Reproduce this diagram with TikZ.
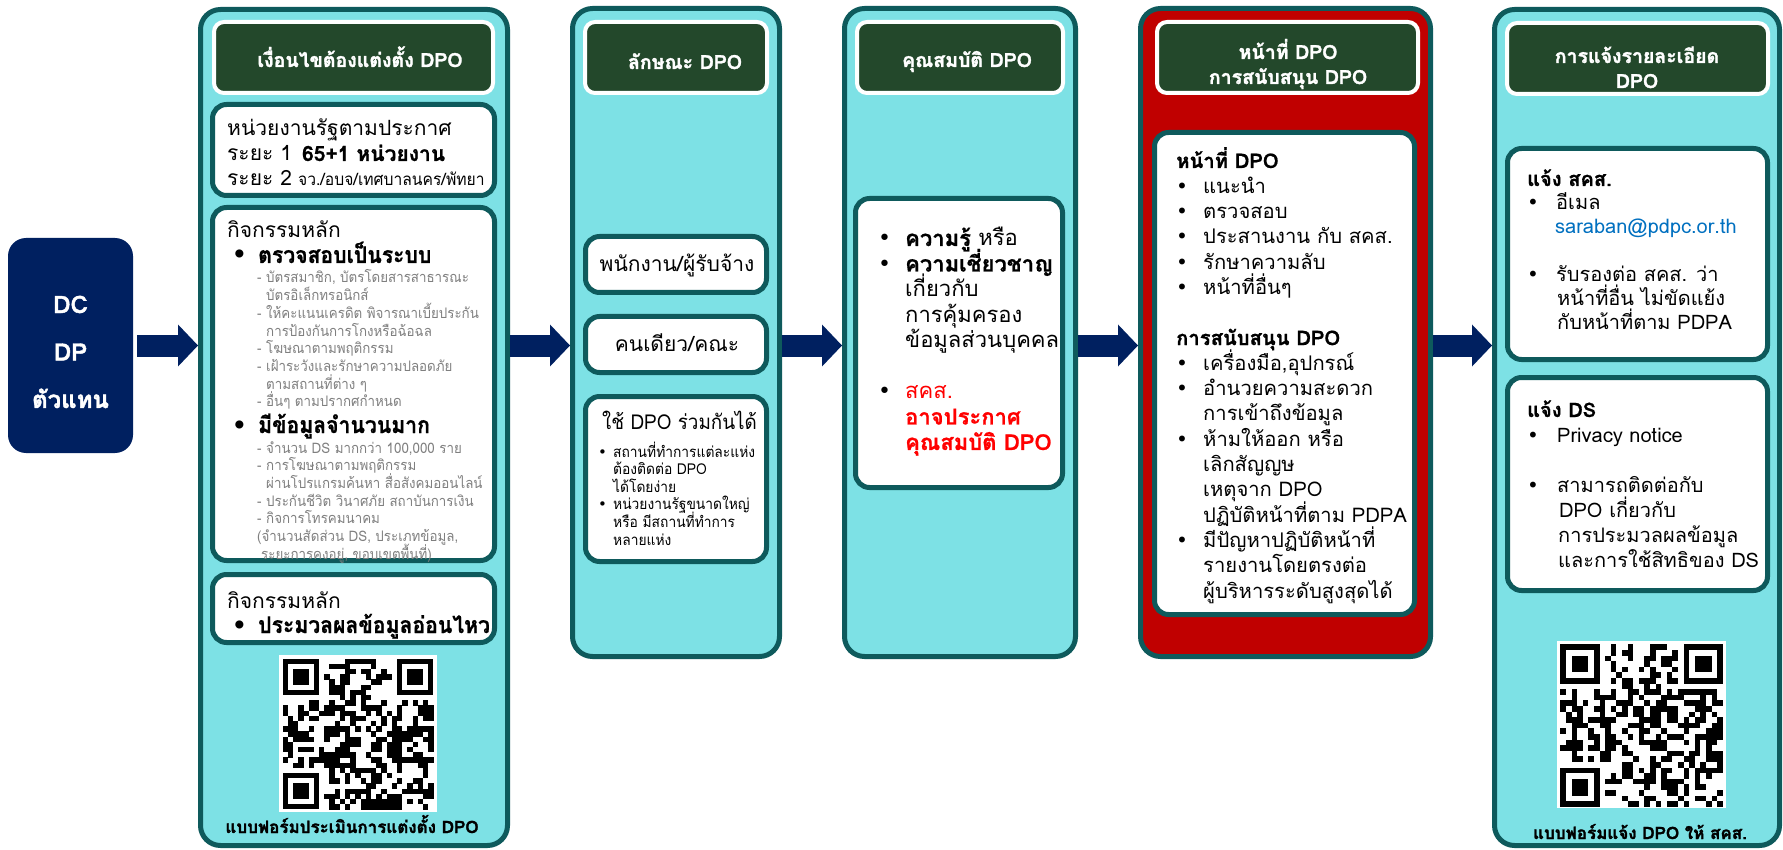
\documentclass[tikz,border=0pt]{standalone}
\usepackage{fontspec}
\setmainfont{Loma}[Script=Thai, BoldFeatures={FakeBold=0.8}]
\newfontfamily\condfont{Loma}[Script=Thai, FakeStretch=0.92, BoldFeatures={FakeBold=0.8}]
\newfontfamily\heavyfont{Loma}[Script=Thai, BoldFeatures={FakeBold=1.6}]
\newfontfamily\bulfont{DejaVu Sans}
\usepackage{xcolor}
\usetikzlibrary{arrows.meta, calc}

\definecolor{cyanbg}{RGB}{125,225,229}
\definecolor{tealdk}{RGB}{14,90,92}
\definecolor{hdrgreen}{RGB}{35,72,43}
\definecolor{navy}{RGB}{0,32,96}
\definecolor{redfill}{RGB}{192,0,0}
\definecolor{greytxt}{RGB}{127,127,127}
\definecolor{bluetxt}{RGB}{0,112,192}
\definecolor{redtxt}{RGB}{255,0,0}

\newcommand{\fs}[2]{\fontsize{#1}{#2}\selectfont}
\newcommand{\bul}{{\bulfont •}}
\newcommand{\bi}[1][27pt]{\makebox[#1][l]{\bul}}
\newcommand{\ii}[1][27pt]{\hspace*{#1}}
\newcommand{\dsh}{\makebox[9pt][l]{-}}
% lines with a fixed baseline step, base = first line
\newcommand{\tl}[1]{\vtop{\lineskiplimit=-100pt\relax\let\\\cr\halign{##\hfil\cr#1\crcr}}}
\newcommand{\tc}[1]{\vtop{\lineskiplimit=-100pt\relax\let\\\cr\halign{\hfil##\hfil\cr#1\crcr}}}

\begin{document}
\begin{tikzpicture}[
  x=1pt, y=-1pt,
  col/.style={draw=tealdk, line width=5pt, fill=cyanbg, rounded corners=20pt},
  hdr/.style={draw=white, line width=4pt, fill=hdrgreen, rounded corners=10pt},
  inbox/.style={draw=tealdk, line width=5pt, fill=white, rounded corners=14pt},
  hdtxt/.style={text=white, font=\heavyfont\bfseries\fs{19.5}{25}, inner sep=0pt, anchor=base},
  txt/.style={inner sep=0pt, anchor=base west},
  gry/.style={txt, text=greytxt, font=\condfont\fs{14.5}{17.7}},
  foot/.style={inner sep=0pt, anchor=base, font=\heavyfont\bfseries\fs{17}{20}},
  qrbg/.style={fill=white, inner sep=0pt},
  blk/.style={draw=navy, line width=22pt, -{Triangle[length=20pt, width=42pt, line width=0pt]}}
]
\useasboundingbox (0,0) rectangle (1783,850);

% source
\node[fill=navy, rounded corners=18pt, minimum width=125, minimum height=215] (dc) at (70.5,345.5) {};
\node[text=white, font=\heavyfont\bfseries\fs{24}{47.5}, inner sep=0pt, anchor=base] (dct) at (70.5,313) {\tc{DC\\DP\\ตัวแทน}};

% columns
\node[col, minimum width=307, minimum height=836] (col1) at (354,427.5) {};
\node[col, minimum width=207, minimum height=648] (col2) at (676,332.5) {};
\node[col, minimum width=231, minimum height=648] (col3) at (960,332.5) {};
\node[col, fill=redfill, minimum width=290, minimum height=648] (col4) at (1285.5,332.5) {};
\node[col, minimum width=285, minimum height=836] (col5) at (1637,427.5) {};

% headers
\node[hdr, minimum width=279, minimum height=71] (h1) at (353.5,57.5) {};
\node[hdr, minimum width=182, minimum height=71] (h2) at (676,57.5) {};
\node[hdr, minimum width=206, minimum height=71] (h3) at (960,57.5) {};
\node[hdr, minimum width=261, minimum height=71] (h4) at (1287.5,57.5) {};
\node[hdr, minimum width=261, minimum height=71] (h5) at (1637.5,58.5) {};
\node[hdtxt] (h1t) at (360,67) {เงื่อนไขต้องแต่งตั้ง DPO};
\node[hdtxt] (h2t) at (685,69) {ลักษณะ DPO};
\node[hdtxt] (h3t) at (967,67) {คุณสมบัติ DPO};
\node[hdtxt] (h4t) at (1288,59) {\tc{หน้าที่ DPO\\การสนับสนุน DPO}};
\node[hdtxt] (h5t) at (1637,63) {\tc{การแจ้งรายละเอียด\\DPO}};

% column 1
\node[inbox, minimum width=282, minimum height=91] (b1) at (353.5,150) {};
\node[inbox, minimum width=282, minimum height=353] (b2) at (353.5,384) {};
\node[inbox, minimum width=282, minimum height=68] (b3) at (353.5,608.5) {};
\node[txt, font=\fs{21}{25}] (b1t) at (227,136) {\tl{หน่วยงานรัฐตามประกาศ\\ระยะ 1\hspace{10pt}{\bfseries 65+1 หน่วยงาน}\\ระยะ 2\hspace{6pt}{\condfont\fs{17}{25}จว./อบจ/เทศบาลนคร/พัทยา}}};
\node[txt, font=\fs{21}{25}] (b2t) at (227,238) {กิจกรรมหลัก};
\node[txt, font=\condfont\bfseries\fs{23}{25}] (b2u) at (232,263) {\bi[26pt]ตรวจสอบเป็นระบบ};
\node[gry] (g1) at (257,283) {\tl{\dsh บัตรสมาชิก, บัตรโดยสารสาธารณะ\\\ii[9pt]บัตรอิเล็กทรอนิกส์\\\dsh ให้คะแนนเครดิต พิจารณาเบี้ยประกัน\\\ii[9pt]การป้องกันการโกงหรือฉ้อฉล\\\dsh โฆษณาตามพฤติกรรม\\\dsh เฝ้าระวังและรักษาความปลอดภัย\\\ii[9pt]ตามสถานที่ต่าง ๆ\\\dsh อื่นๆ ตามปรากศกำหนด}};
\node[txt, font=\condfont\bfseries\fs{23}{25}] (b2v) at (232,433) {\bi[26pt]มีข้อมูลจำนวนมาก};
\node[gry] (g2) at (257,453) {\tl{\dsh จำนวน DS มากกว่า 100,000 ราย\\\dsh การโฆษณาตามพฤติกรรม\\\ii[9pt]ผ่านโปรแกรมค้นหา สื่อสังคมออนไลน์\\\dsh ประกันชีวิต วินาศภัย สถาบันการเงิน\\\dsh กิจการโทรคมนาคม\\(จำนวนสัดส่วน DS, ประเภทข้อมูล,\\\ii[4pt]ระยะการคงอยู่, ขอบเขตพื้นที่)}};
\node[txt, font=\fs{21}{25}] (b3t) at (227,608) {กิจกรรมหลัก};
\node[txt, font=\condfont\bfseries\fs{23}{25}] (b3u) at (232,633) {\bi[26pt]ประมวลผลข้อมูลอ่อนไหว};
\node[qrbg, minimum width=158, minimum height=157] (qr1) at (358,733.5) {};
\node[foot] (f1) at (352,833) {แบบฟอร์มประเมินการแต่งตั้ง DPO};

% column 2
\node[inbox, minimum width=181, minimum height=56] (c2a) at (676,264.5) {};
\node[inbox, minimum width=181, minimum height=56] (c2b) at (676,344.5) {};
\node[inbox, minimum width=181, minimum height=165] (c2c) at (676,479) {};
\node[inner sep=0pt, anchor=base, font=\fs{21}{25}] (c2at) at (677,272) {พนักงาน/ผู้รับจ้าง};
\node[inner sep=0pt, anchor=base, font=\fs{21}{25}] (c2bt) at (677,352) {คนเดียว/คณะ};
\node[txt, font=\condfont\fs{20.5}{25}] (c2ct) at (602,429) {ใช้ DPO ร่วมกันได้};
\node[txt, font=\condfont\fs{15}{17.6}] (c2cl) at (598,457) {\tl{\bi[15pt]สถานที่ทำการแต่ละแห่ง\\\ii[15pt]ต้องติดต่อ DPO\\\ii[15pt]ได้โดยง่าย\\\bi[15pt]หน่วยงานรัฐขนาดใหญ่\\\ii[15pt]หรือ มีสถานที่ทำการ\\\ii[15pt]หลายแห่ง}};

% column 3
\node[inbox, minimum width=207, minimum height=289] (c3) at (959,343) {};
\node[txt, font=\fs{22}{25.5}] (c3t) at (878,246) {\tl{\bi\textbf{ความรู้} หรือ\\\bi\textbf{ความเชี่ยวชาญ}\\\ii เกี่ยวกับ\\\ii การคุ้มครอง\\\ii ข้อมูลส่วนบุคคล\\\mbox{}\\\bi{\color{redtxt}สคส.}\\\ii{\color{redtxt}\bfseries อาจประกาศ}\\\ii{\color{redtxt}\bfseries คุณสมบัติ DPO}}};

% column 4
\node[inbox, minimum width=260, minimum height=482] (c4) at (1284.5,373.5) {};
\node[txt, font=\fs{20.2}{25.3}] (c4t) at (1176,168) {\tl{\textbf{หน้าที่ DPO}\\\bi แนะนำ\\\bi ตรวจสอบ\\\bi ประสานงาน กับ สคส.\\\bi รักษาความลับ\\\bi หน้าที่อื่นๆ\\\mbox{}\\\textbf{การสนับสนุน DPO}\\\bi เครื่องมือ,อุปกรณ์\\\bi อำนวยความสะดวก\\\ii การเข้าถึงข้อมูล\\\bi ห้ามให้ออก หรือ\\\ii เลิกสัญญษ\\\ii เหตุจาก DPO\\\ii ปฏิบัติหน้าที่ตาม PDPA\\\bi มีปัญหาปฏิบัติหน้าที่\\\ii รายงานโดยตรงต่อ\\\ii ผู้บริหารระดับสูงสุดได้}};

% column 5
\node[inbox, minimum width=260, minimum height=211] (c5a) at (1637.5,254) {};
\node[inbox, minimum width=260, minimum height=213] (c5b) at (1637.5,484) {};
\node[txt, font=\fs{20}{24}] (c5at) at (1527,186) {\tl{\textbf{แจ้ง สคส.}\\\bi[29pt]อีเมล\\\ii[28pt]{\color{bluetxt}saraban@pdpc.or.th}\\\mbox{}\\\bi[29pt]รับรองต่อ สคส. ว่า\\\ii[30pt]หน้าที่อื่น ไม่ขัดแย้ง\\\ii[30pt]กับหน้าที่ตาม PDPA}};
\node[txt, font=\fs{20}{25}] (c5bt) at (1527,417) {\tl{\textbf{แจ้ง DS}\\\bi[30pt]Privacy notice\\\mbox{}\\\bi[30pt]สามารถติดต่อกับ\\\ii[32pt]DPO เกี่ยวกับ\\\ii[31pt]การประมวลผลข้อมูล\\\ii[31pt]และการใช้สิทธิของ DS}};
\node[qrbg, minimum width=169, minimum height=167] (qr5) at (1641.5,724.5) {};
\node[foot] (f5) at (1640,839) {แบบฟอร์มแจ้ง DPO ให้ สคส.};

% QR patterns
\pgfmathsetseed{17}
\foreach \qx/\qy/\qm in {282.6/658.6/5.2, 1560.3/644.3/5.6}{
  \begin{scope}[shift={(\qx,\qy)}, x=\qm pt, y=-\qm pt]
    \foreach \i in {0,...,28}{
      \foreach \j in {0,...,28}{
        \pgfmathtruncatemacro{\qrin}{((\i<8)&&(\j<8))||((\i>20)&&(\j<8))||((\i<8)&&(\j>20))}
        \pgfmathtruncatemacro{\qron}{rnd<0.5}
        \ifnum\qrin=0 \ifnum\qron=1 \fill (\i,\j) rectangle ++(1.03,1.03);\fi\fi
      }}
    \foreach \a/\b in {0/0,22/0,0/22}{
      \fill (\a,\b) rectangle ++(7,7);
      \fill[white] (\a+1,\b+1) rectangle ++(5,5);
      \fill (\a+2,\b+2) rectangle ++(3,3);
    }
  \end{scope}
}

% arrows
\draw[blk, shorten <=4pt] (dc.east) -- (dc.east -| col1.west);
\draw[blk] (col1.east |- dc.east) -- (col2.west |- dc.east);
\draw[blk] (col2.east |- dc.east) -- (col3.west |- dc.east);
\draw[blk] (col3.east |- dc.east) -- (col4.west |- dc.east);
\draw[blk] (col4.east |- dc.east) -- (col5.west |- dc.east);
\end{tikzpicture}
\end{document}
